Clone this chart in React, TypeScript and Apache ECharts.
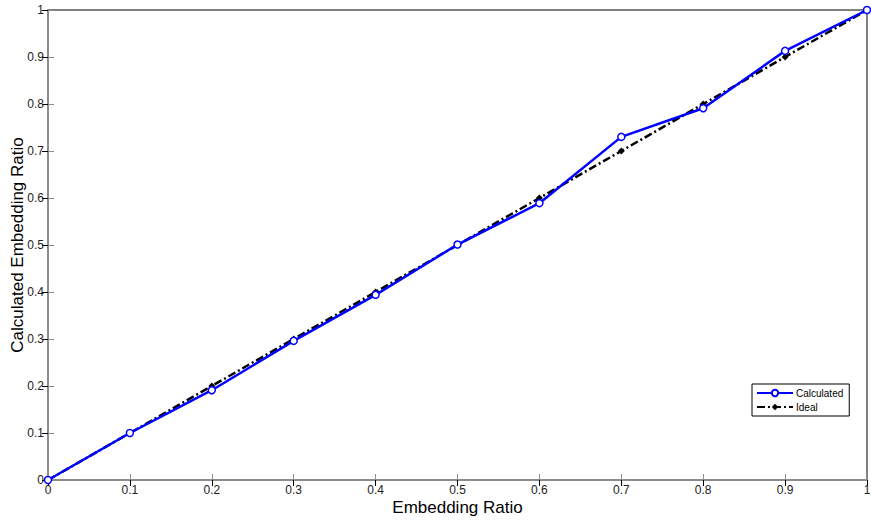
import React, { useEffect, useRef } from "react";
import * as echarts from "echarts";

const xValues = [0, 0.1, 0.2, 0.3, 0.4, 0.5, 0.6, 0.7, 0.8, 0.9, 1];
const calculated = [0, 0.1, 0.191, 0.296, 0.394, 0.501, 0.589, 0.73, 0.791, 0.913, 1];
const ideal = [0, 0.1, 0.2, 0.3, 0.4, 0.5, 0.6, 0.7, 0.8, 0.9, 1];

export default function App() {
  const ref = useRef<HTMLDivElement>(null);
  useEffect(() => {
    document.body.style.margin = "0";
    const chart = echarts.init(ref.current!, null, { renderer: "svg" });
    const font = "Liberation Sans, Arial, sans-serif";
    const baseAxis = {
      type: "value",
      min: 0,
      max: 1,
      interval: 0.1,
      splitLine: { show: false },
    };
    chart.setOption({
      animation: false,
      backgroundColor: "#ffffff",
      grid: {
        left: 48,
        right: 4,
        top: 10,
        bottom: 41,
        containLabel: false,
        outerBoundsMode: "none",
        show: true,
        borderColor: "#000000",
        borderWidth: 1,
        backgroundColor: "#ffffff",
      },
      legend: {
        orient: "vertical",
        left: 752,
        top: 384,
        backgroundColor: "#ffffff",
        borderColor: "#000000",
        borderWidth: 1,
        padding: [4, 6, 4, 4],
        itemGap: 4,
        itemWidth: 36,
        itemHeight: 8,
        textStyle: { fontFamily: font, fontSize: 10, color: "#000000", padding: [0, 0, 0, -2] },
        data: ["Calculated", "Ideal"],
      },
      xAxis: [
        {
          ...baseAxis,
          position: "bottom",
          name: "Embedding Ratio",
          nameLocation: "middle",
          nameGap: 19,
          nameMoveOverlap: false,
          nameTextStyle: { fontFamily: font, fontSize: 17, color: "#000000" },
          axisLine: { show: true, lineStyle: { color: "#8c8c8c", width: 2 } },
          axisTick: { show: true, inside: true, length: 6, lineStyle: { color: "#8c8c8c" } },
          axisLabel: {
            fontFamily: font,
            fontSize: 12,
            color: "#222222",
            margin: 4,
            formatter: (v: number) => String(Math.round(v * 10) / 10),
          },
        },
        {
          ...baseAxis,
          position: "top",
          axisLine: { show: false },
          axisTick: { show: true, inside: true, length: 6, lineStyle: { color: "#000000" } },
          axisLabel: { show: false },
        },
      ],
      yAxis: [
        {
          ...baseAxis,
          position: "left",
          name: "Calculated Embedding Ratio",
          nameLocation: "middle",
          nameGap: 22,
          nameMoveOverlap: false,
          nameTextStyle: { fontFamily: font, fontSize: 17, color: "#000000" },
          axisLine: { show: true, lineStyle: { color: "#8c8c8c", width: 2 } },
          axisTick: { show: true, inside: true, length: 6, lineStyle: { color: "#8c8c8c" } },
          axisLabel: {
            fontFamily: font,
            fontSize: 12,
            color: "#222222",
            margin: 4,
            formatter: (v: number) => String(Math.round(v * 10) / 10),
          },
        },
        {
          ...baseAxis,
          position: "right",
          axisLine: { show: false },
          axisTick: { show: true, inside: true, length: 6, lineStyle: { color: "#000000" } },
          axisLabel: { show: false },
        },
      ],
      series: [
        {
          name: "Ideal",
          type: "line",
          data: xValues.map((x, i) => [x, ideal[i]]),
          symbol: "diamond",
          symbolSize: 7,
          showSymbol: true,
          itemStyle: { color: "#000000" },
          lineStyle: { color: "#000000", width: 2.5, type: [8, 3, 2, 3] },
          z: 2,
        },
        {
          name: "Calculated",
          type: "line",
          data: xValues.map((x, i) => [x, calculated[i]]),
          symbol: "circle",
          symbolSize: 7,
          showSymbol: true,
          itemStyle: { color: "#ffffff", borderColor: "#0000ff", borderWidth: 1.5 },
          lineStyle: { color: "#0000ff", width: 2.5 },
          z: 3,
        },
      ],
    });
    return () => chart.dispose();
  }, []);
  return (
    <div
      ref={ref}
      style={{ position: "absolute", left: 0, top: 0, width: 871, height: 521 }}
    />
  );
}
